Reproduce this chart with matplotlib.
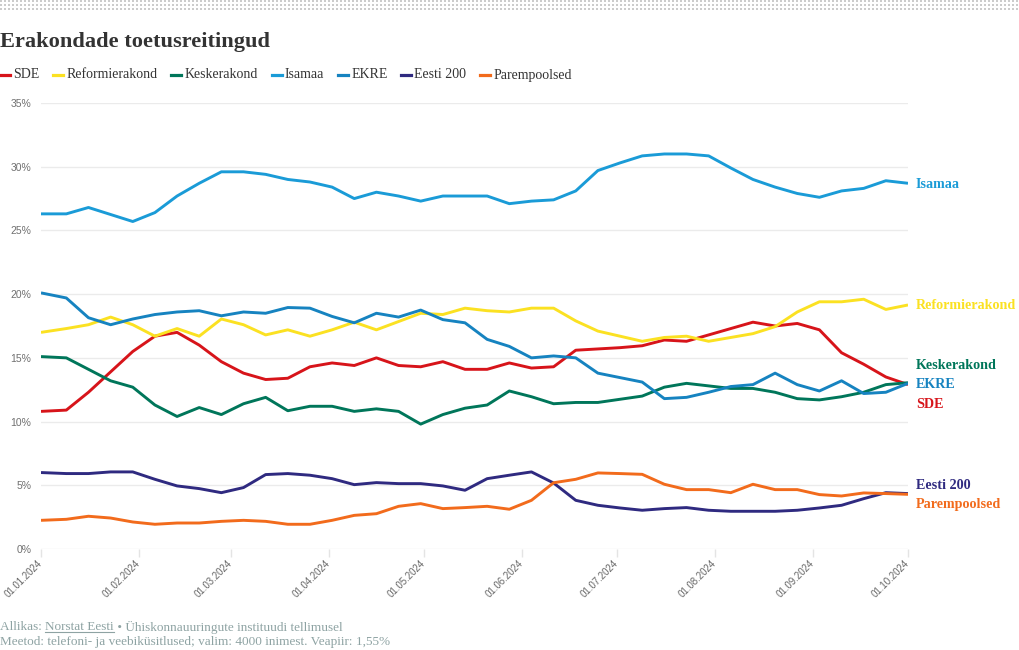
import numpy as np
import pandas as pd
import matplotlib
matplotlib.use('Agg')
import matplotlib.pyplot as plt
import matplotlib.dates as mdates
from matplotlib.lines import Line2D

# küsitluste kuupäevad
dates = pd.to_datetime([
    '2024-01-01', '2024-01-09', '2024-01-16', '2024-01-23', '2024-01-30',
    '2024-02-06', '2024-02-13', '2024-02-20', '2024-02-27',
    '2024-03-05', '2024-03-12', '2024-03-19', '2024-03-26',
    '2024-04-02', '2024-04-09', '2024-04-16', '2024-04-23', '2024-04-30',
    '2024-05-07', '2024-05-14', '2024-05-21', '2024-05-28',
    '2024-06-04', '2024-06-11', '2024-06-18', '2024-06-25',
    '2024-07-02', '2024-07-09', '2024-07-16', '2024-07-23', '2024-07-30',
    '2024-08-06', '2024-08-13', '2024-08-20', '2024-08-27',
    '2024-09-03', '2024-09-10', '2024-09-17', '2024-09-24', '2024-10-01'])

sde = [10.8, 10.9, 12.3, 13.9, 15.5, 16.7, 17.0, 16.0, 14.7, 13.8,
       13.3, 13.4, 14.3, 14.6, 14.4, 15.0, 14.4, 14.3, 14.7, 14.1,
       14.1, 14.6, 14.2, 14.3, 15.6, 15.7, 15.8, 15.95, 16.4, 16.3,
       16.8, 17.3, 17.8, 17.5, 17.7, 17.2, 15.4, 14.5, 13.5, 12.9]
reform = [17.0, 17.3, 17.6, 18.2, 17.6, 16.7, 17.3, 16.7, 18.05, 17.6,
          16.8, 17.2, 16.7, 17.2, 17.8, 17.2, 17.85, 18.5, 18.4, 18.9,
          18.7, 18.6, 18.9, 18.9, 17.9, 17.1, 16.7, 16.3, 16.6, 16.7,
          16.3, 16.6, 16.9, 17.45, 18.6, 19.4, 19.4, 19.6, 18.8, 19.15]
kesk = [15.1, 15.0, 14.1, 13.2, 12.7, 11.3, 10.4, 11.1, 10.55, 11.4,
        11.9, 10.85, 11.2, 11.2, 10.8, 11.0, 10.8, 9.8, 10.55, 11.05,
        11.3, 12.4, 11.95, 11.4, 11.5, 11.5, 11.75, 12.0, 12.7, 13.0,
        12.8, 12.6, 12.6, 12.3, 11.8, 11.7, 11.95, 12.3, 12.9, 13.05]
isamaa = [26.3, 26.3, 26.8, 26.25, 25.7, 26.4, 27.7, 28.7, 29.6, 29.6,
          29.4, 29.0, 28.8, 28.4, 27.5, 28.0, 27.7, 27.3, 27.7, 27.7,
          27.7, 27.1, 27.3, 27.4, 28.1, 29.7, 30.3, 30.85, 31.0, 31.0,
          30.85, 29.9, 29.0, 28.4, 27.9, 27.6, 28.1, 28.3, 28.9, 28.7]
ekre = [20.1, 19.7, 18.15, 17.6, 18.05, 18.4, 18.6, 18.7, 18.3, 18.6,
        18.5, 18.95, 18.9, 18.25, 17.75, 18.5, 18.2, 18.75, 18.0, 17.75,
        16.45, 15.9, 15.0, 15.15, 15.0, 13.8, 13.45, 13.1, 11.8, 11.9,
        12.3, 12.75, 12.9, 13.8, 12.9, 12.4, 13.2, 12.2, 12.3, 13.0]
e200 = [6.0, 5.92, 5.92, 6.05, 6.05, 5.47, 4.95, 4.74, 4.42, 4.82,
        5.84, 5.92, 5.79, 5.52, 5.05, 5.21, 5.13, 5.13, 4.95, 4.61,
        5.52, 5.79, 6.05, 5.18, 3.82, 3.43, 3.22, 3.04, 3.17, 3.25,
        3.04, 2.96, 2.96, 2.96, 3.04, 3.22, 3.43, 3.95, 4.42, 4.35]
parem = [2.25, 2.33, 2.57, 2.43, 2.12, 1.94, 2.04, 2.04, 2.17, 2.25,
         2.17, 1.94, 1.94, 2.25, 2.64, 2.77, 3.35, 3.56, 3.17, 3.25,
         3.35, 3.12, 3.82, 5.2, 5.47, 5.97, 5.92, 5.86, 5.08, 4.66,
         4.66, 4.42, 5.08, 4.66, 4.66, 4.27, 4.16, 4.4, 4.35, 4.29]

names = ['SDE', 'Reformierakond', 'Keskerakond', 'Isamaa', 'EKRE', 'Eesti 200', 'Parempoolsed']
series = [sde, reform, kesk, isamaa, ekre, e200, parem]
colors = ['#d7141a', '#fbe122', '#00765a', '#1a9bd7', '#1683c0', '#2f2a80', '#f26b1c']

yticks = [0, 5, 10, 15, 20, 25, 30, 35]
month_ticks = pd.to_datetime(['2024-%02d-01' % m for m in range(1, 11)])

W, H = 1020, 650
serif = 'Liberation Serif'
sans = 'Liberation Sans'

fig = plt.figure(figsize=(W / 100, H / 100), dpi=100)
fig.patch.set_facecolor('white')

# punktiriba üleval
band = np.ones((10, W, 3))
for r0 in (0, 4, 8):
    for c0 in (0, 1):
        band[r0, c0::4] = 0.8
        if r0 + 1 < 10:
            band[r0 + 1, c0::4] = 0.8
fig.figimage(band, xo=0, yo=H - 10, origin='upper')

ax = fig.add_axes([41 / W, 1 - 549 / H, (908 - 41) / W, (549 - 103) / H])
for vals, col in zip(series, colors):
    ax.plot(dates, vals, color=col, lw=2.1, solid_joinstyle='round', solid_capstyle='butt')

ax.set_xlim(dates[0], dates[-1])
ax.set_ylim(0, 35)
ax.set_yticks(yticks)
ax.set_yticklabels(['%d%%' % t for t in yticks], fontfamily=sans, fontsize=7.5, color='#707070')
ax.set_xticks(month_ticks)
ax.set_xticklabels([d.strftime('%d.%m.%Y') for d in month_ticks], rotation=45,
                   ha='right', va='center', rotation_mode='anchor',
                   fontfamily=sans, fontsize=7, color='#666666')
ax.tick_params(axis='y', length=0, pad=7)
ax.tick_params(axis='x', length=6, color='#e4e4e4', width=1, pad=3)
ax.yaxis.grid(True, color='#ebebeb', lw=1)
ax.set_axisbelow(True)
for s in ax.spines.values():
    s.set_visible(False)

# nimed paremal, kattumiseta
xend = mdates.date2num(dates[-1])
py = [ax.transData.transform((xend, v[-1]))[1] for v in series]
order = sorted(range(len(names)), key=lambda i: -py[i])
gap = 19.5
groups = []
for i in order:
    if groups and groups[-1][-1][1] - py[i] < gap:
        groups[-1].append((i, py[i]))
    else:
        groups.append([(i, py[i])])
pos = {}
for g in groups:
    c = np.mean([p for _, p in g])
    n = len(g)
    for j, (i, _) in enumerate(g):
        pos[i] = c - (j - (n - 1) / 2) * gap
for i in range(len(names)):
    ax.annotate(names[i], xy=(xend, series[i][-1]), xytext=(8, pos[i] - py[i] - 1),
                textcoords='offset pixels', ha='left', va='center',
                fontfamily=serif, fontweight='bold', fontsize=10.2, color=colors[i],
                annotation_clip=False)

# pealkiri
fig.text(0, 1 - 47 / H, 'Erakondade toetusreitingud', fontfamily=serif, fontweight='bold',
         fontsize=16.1, color='#333333', ha='left', va='baseline')

# legend
fig.canvas.draw()
r = fig.canvas.get_renderer()
x0 = 0
yl = 1 - 75 / H
for name, col in zip(names, colors):
    fig.add_artist(Line2D([x0 / W, (x0 + 10) / W], [yl, yl], color=col, lw=2.3,
                          transform=fig.transFigure))
    t = fig.text((x0 + 13) / W, yl, name, fontfamily=serif, fontsize=10,
                 color='#333333', ha='left', va='center')
    w = t.get_window_extent(renderer=r).width
    x0 = x0 + 13 + w + 14

# allikas
fc = '#8ea3a3'
fy1 = 1 - 627 / H
fy2 = 1 - 642 / H
parts = ['Allikas: ', 'Norstat Eesti', ' \u2022 \u00dchiskonnauuringute instituudi tellimusel']
xx = 0
for k, p in enumerate(parts):
    t = fig.text(xx / W, fy1, p, fontfamily=serif, fontsize=9.5, color=fc, ha='left', va='center')
    bb = t.get_window_extent(renderer=r)
    if k == 1:
        fig.add_artist(Line2D([xx / W, (xx + bb.width) / W], [(bb.y0 + 1) / H] * 2,
                              color=fc, lw=0.8, transform=fig.transFigure))
    xx += bb.width
fig.text(0, fy2, 'Meetod: telefoni- ja veebiküsitlused; valim: 4000 inimest. Veapiir: 1,55%',
         fontfamily=serif, fontsize=9.5, color=fc, ha='left', va='center')

fig.savefig('out.png', dpi=100, facecolor='white')
